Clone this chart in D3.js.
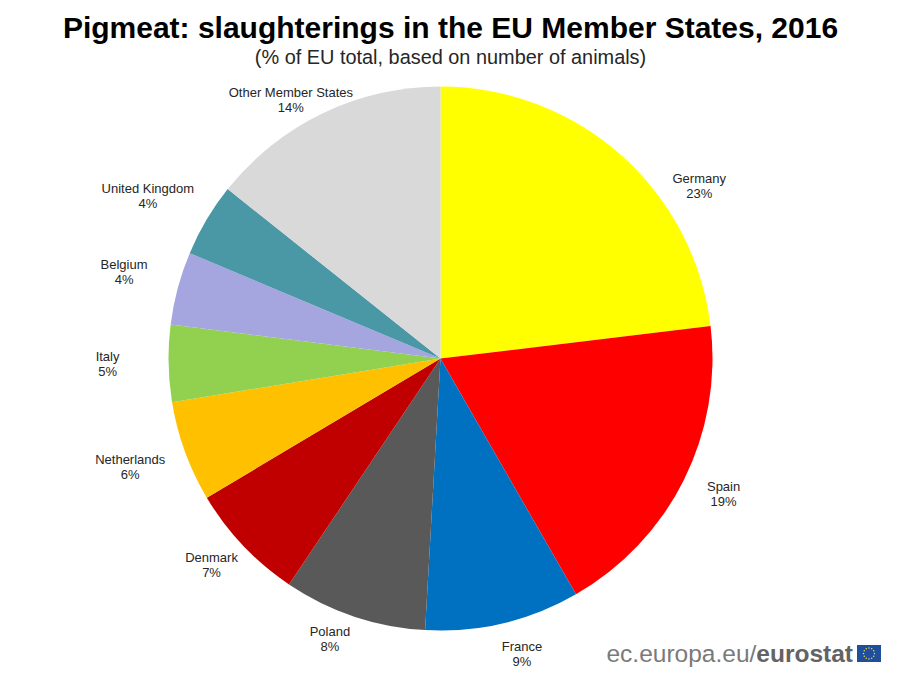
<!DOCTYPE html>
<html lang="en">

<head>
    <meta charset="UTF-8">
    <title>Pigmeat slaughterings in the EU Member States, 2016</title>
    <script src="https://d3js.org/d3.v7.min.js"></script>
    <style>
        html, body {
            margin: 0;
            background: #fff;
        }

        svg {
            display: block;
            font-family: "Liberation Sans", Arial, sans-serif;
        }

        .title {
            font-size: 30px;
            font-weight: bold;
            fill: #000;
        }

        .subtitle {
            font-size: 19.9px;
            fill: #262626;
        }

        .label {
            font-size: 13px;
            fill: #262626;
        }

        .logo {
            font-size: 24.5px;
            fill: #7a7a7b;
        }
    </style>
</head>

<body>
    <svg id="chart" width="900" height="679"></svg>

    <script>
        const width = 900;
        const height = 679;

        // clockwise from 12 o'clock
        const countries = ["Germany", "Spain", "France", "Poland", "Denmark", "Netherlands", "Italy", "Belgium", "United Kingdom", "Other Member States"];
        // slice sizes
        const shares = [23.1, 18.6, 9.2, 8.5, 7.05, 5.98, 4.57, 4.33, 4.37, 14.3];
        // the rounded numbers printed next to each slice
        const printed = [23, 19, 9, 8, 7, 6, 5, 4, 4, 14];
        const colors = ["#ffff00", "#ff0000", "#0070c0", "#595959", "#c00000", "#ffc000", "#92d050", "#a5a5e0", "#4a97a5", "#d9d9d9"];

        // labels were placed by hand in the original, so nudge them off the arc
        const labelNudges = [[53, 59], [6, -3], [10, -6], [-12, -13], [-4, -7], [-19, 2], [-23, 0], [-17, -6], [-26, -4], [-15, 21]];

        const cx = 440.5;
        const cy = 358.5;
        const radius = 272;
        const labelRadius = 310;

        const svg = d3.select("#chart");

        svg.append("text")
            .attr("class", "title")
            .attr("x", 450.5)
            .attr("y", 38)
            .attr("text-anchor", "middle")
            .text("Pigmeat: slaughterings in the EU Member States, 2016");

        svg.append("text")
            .attr("class", "subtitle")
            .attr("x", 450.5)
            .attr("y", 64)
            .attr("text-anchor", "middle")
            .text("(% of EU total, based on number of animals)");

        const pie = d3.pie().sort(null).value(i => shares[i]);
        const arc = d3.arc().innerRadius(0).outerRadius(radius);
        const labelArc = d3.arc().innerRadius(labelRadius).outerRadius(labelRadius);

        const slices = pie(d3.range(countries.length));
        const plot = svg.append("g").attr("transform", `translate(${cx},${cy})`);

        plot.selectAll("path")
            .data(slices)
            .enter().append("path")
            .attr("d", arc)
            .attr("fill", d => colors[d.data]);

        const labels = plot.selectAll("text")
            .data(slices)
            .enter().append("text")
            .attr("class", "label")
            .attr("text-anchor", "middle")
            .attr("transform", d => {
                const [x, y] = labelArc.centroid(d);
                const [dx, dy] = labelNudges[d.data];
                return `translate(${x + dx},${y + dy})`;
            });

        labels.append("tspan")
            .attr("x", 0)
            .attr("y", -3)
            .text(d => countries[d.data]);

        labels.append("tspan")
            .attr("x", 0)
            .attr("y", 12)
            .text(d => `${printed[d.data]}%`);

        // eurostat logo, bottom right
        const logo = svg.append("text")
            .attr("class", "logo")
            .attr("x", 853)
            .attr("y", 662)
            .attr("text-anchor", "end");

        logo.append("tspan").style("font-weight", "normal").text("ec.europa.eu/");
        logo.append("tspan").style("font-weight", "bold").style("fill", "#636364").text("eurostat");

        const flag = svg.append("g").attr("transform", "translate(857,645)");

        flag.append("rect")
            .attr("width", 24)
            .attr("height", 17)
            .attr("fill", "#1f4e9c");

        flag.selectAll("circle")
            .data(d3.range(12))
            .enter().append("circle")
            .attr("cx", i => 12 + 5.5 * Math.sin(i * Math.PI / 6))
            .attr("cy", i => 8.5 - 5.5 * Math.cos(i * Math.PI / 6))
            .attr("r", 0.7)
            .attr("fill", "#ffe14d");
    </script>
</body>

</html>
